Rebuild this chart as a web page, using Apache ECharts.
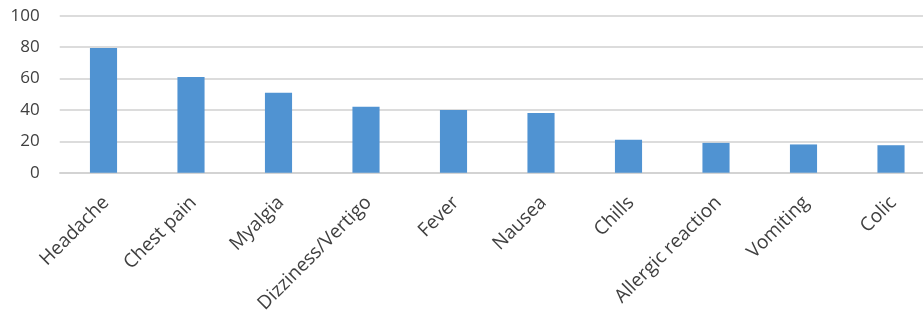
<!DOCTYPE html>
<html>
<head>
<meta charset="utf-8">
<script src="https://cdn.jsdelivr.net/npm/echarts@6/dist/echarts.min.js"></script>
<style>
    html, body { margin: 0; padding: 0; background: #fff; }
    #main { width: 923px; height: 311px; }
</style>
</head>
<body>
<div id="main"></div>
<script>
// symptoms
var categories = ['Headache', 'Chest pain', 'Myalgia', 'Dizziness/Vertigo', 'Fever',
    'Nausea', 'Chills', 'Allergic reaction', 'Vomiting', 'Colic'];
var counts = [79.5, 61, 51, 42, 40, 38, 21, 19, 18, 17.5];
var yTicks = [0, 20, 40, 60, 80, 100];

var myChart = echarts.init(document.getElementById('main'));
var option = {
    animation: false,
    textStyle: {
        fontFamily: '"Open Sans", "Noto Sans", sans-serif'
    },
    grid: {
        left: 59.75,
        width: 875,   // chart is cut off at the right edge in the original
        top: 15.7,
        bottom: 138.3,
        containLabel: false,
        outerBoundsMode: 'none'
    },
    xAxis: {
        type: 'category',
        data: categories,
        axisLine: { lineStyle: { color: '#d0d0d0', width: 1.5 } },
        axisTick: { show: false },
        axisLabel: {
            rotate: 45,
            margin: 16,
            fontSize: 19,
            color: '#404040',
            verticalAlign: 'top',
            padding: [0, 6, 0, 0],
            interval: 0
        }
    },
    yAxis: {
        type: 'value',
        min: yTicks[0],
        max: yTicks[yTicks.length - 1],
        interval: 20,
        axisLine: { show: false },
        axisTick: { show: false },
        axisLabel: {
            margin: 20,
            fontSize: 17,
            color: '#404040'
        },
        splitLine: { lineStyle: { color: '#d0d0d0', width: 1.5 } }
    },
    series: [{
        type: 'bar',
        data: counts,
        barWidth: '31%',
        itemStyle: { color: '#5093d2' }
    }]
};
if (option && typeof option === "object") {
    myChart.setOption(option, true);
}
</script>
</body>
</html>
